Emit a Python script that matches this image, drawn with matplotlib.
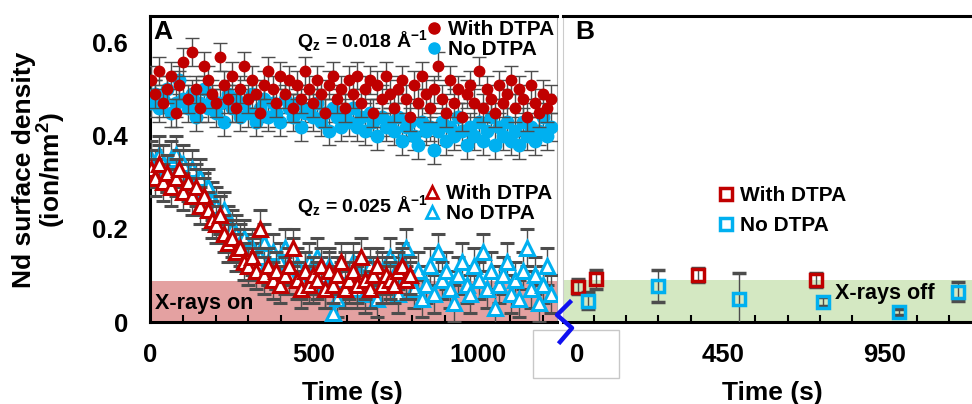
import numpy as np
import matplotlib
matplotlib.use("Agg")
import matplotlib.pyplot as plt
from matplotlib.lines import Line2D
from matplotlib.patches import Rectangle

plt.rcParams['font.family'] = ['Liberation Sans', 'DejaVu Sans']
plt.rcParams['font.weight'] = 'bold'
plt.rcParams['mathtext.fontset'] = 'custom'
plt.rcParams['mathtext.rm'] = 'Liberation Sans:bold'
plt.rcParams['mathtext.bf'] = 'Liberation Sans:bold'
plt.rcParams['mathtext.it'] = 'Liberation Sans:bold'

# ---------------- data: panel A (X-rays on) ----------------
time_a = [4, 16, 28, 41, 53, 65, 78, 90, 102, 115,
          127, 139, 152, 164, 176, 189, 201, 213, 226, 238,
          250, 263, 275, 287, 300, 312, 324, 337, 349, 361,
          374, 386, 398, 411, 423, 435, 448, 460, 472, 485,
          497, 509, 522, 534, 546, 559, 571, 583, 596, 608,
          620, 633, 645, 657, 670, 682, 694, 707, 719, 731,
          744, 756, 768, 781, 793, 805, 818, 830, 842, 855,
          867, 879, 892, 904, 916, 929, 941, 953, 966, 978,
          990, 1003, 1015, 1027, 1040, 1052, 1064, 1077, 1089, 1101,
          1114, 1126, 1138, 1151, 1163, 1175, 1188, 1200, 1212, 1225]

q018_with = [0.52, 0.49, 0.54, 0.47, 0.50, 0.53, 0.45, 0.51, 0.56, 0.48,
             0.58, 0.50, 0.46, 0.55, 0.52, 0.49, 0.47, 0.57, 0.51, 0.48,
             0.53, 0.46, 0.50, 0.55, 0.48, 0.52, 0.49, 0.45, 0.51, 0.54,
             0.50, 0.47, 0.53, 0.49, 0.52, 0.46, 0.51, 0.48, 0.54, 0.50,
             0.47, 0.52, 0.49, 0.45, 0.51, 0.53, 0.48, 0.50, 0.46, 0.52,
             0.49, 0.53, 0.47, 0.50, 0.52, 0.45, 0.51, 0.48, 0.53, 0.49,
             0.46, 0.50, 0.52, 0.48, 0.44, 0.51, 0.47, 0.53, 0.49, 0.46,
             0.50, 0.55, 0.48, 0.45, 0.52, 0.47, 0.50, 0.44, 0.49, 0.51,
             0.47, 0.54, 0.46, 0.50, 0.48, 0.45, 0.51, 0.47, 0.49, 0.52,
             0.46, 0.50, 0.48, 0.44, 0.51, 0.47, 0.45, 0.49, 0.46, 0.48]

q018_none = [0.47, 0.49, 0.46, 0.48, 0.50, 0.45, 0.47, 0.52, 0.48, 0.46,
             0.49, 0.44, 0.47, 0.50, 0.46, 0.48, 0.45, 0.47, 0.43, 0.49,
             0.46, 0.48, 0.44, 0.47, 0.45, 0.49, 0.43, 0.46, 0.48, 0.44,
             0.47, 0.45, 0.43, 0.48, 0.46, 0.44, 0.47, 0.42, 0.45, 0.46,
             0.44, 0.47, 0.43, 0.45, 0.41, 0.46, 0.44, 0.42, 0.45, 0.43,
             0.46, 0.42, 0.44, 0.41, 0.45, 0.43, 0.40, 0.44, 0.42, 0.43,
             0.41, 0.44, 0.39, 0.42, 0.43, 0.40, 0.38, 0.43, 0.41, 0.42,
             0.37, 0.41, 0.43, 0.39, 0.42, 0.40, 0.44, 0.41, 0.38, 0.42,
             0.40, 0.43, 0.39, 0.41, 0.44, 0.38, 0.42, 0.40, 0.43, 0.39,
             0.41, 0.38, 0.43, 0.40, 0.42, 0.39, 0.41, 0.44, 0.40, 0.42]

q025_with = [0.33, 0.31, 0.34, 0.30, 0.32, 0.29, 0.31, 0.33, 0.28, 0.30,
             0.27, 0.29, 0.25, 0.27, 0.24, 0.22, 0.21, 0.23, 0.19, 0.17,
             0.18, 0.15, 0.16, 0.13, 0.12, 0.14, 0.11, 0.20, 0.10, 0.12,
             0.09, 0.11, 0.08, 0.10, 0.12, 0.16, 0.09, 0.07, 0.11, 0.08,
             0.10, 0.09, 0.12, 0.07, 0.11, 0.08, 0.10, 0.13, 0.07, 0.09,
             0.11, 0.08, 0.14, 0.09, 0.07, 0.10, 0.12, 0.08, 0.10, 0.09,
             0.08, 0.11, 0.12, 0.09, 0.10]

q025_none = [0.35, 0.33, 0.36, 0.34, 0.32, 0.35, 0.36, 0.33, 0.34, 0.31,
             0.33, 0.30, 0.31, 0.28, 0.29, 0.26, 0.25, 0.23, 0.24, 0.21,
             0.20, 0.19, 0.17, 0.18, 0.15, 0.16, 0.13, 0.14, 0.17, 0.12,
             0.15, 0.11, 0.13, 0.16, 0.10, 0.14, 0.12, 0.09, 0.11, 0.13,
             0.08, 0.14, 0.10, 0.07, 0.12, 0.02, 0.05, 0.09, 0.11, 0.08,
             0.13, 0.07, 0.10, 0.06, 0.12, 0.09, 0.05, 0.11, 0.08, 0.14,
             0.10, 0.06, 0.13, 0.16, 0.09, 0.07, 0.11, 0.05, 0.08, 0.12,
             0.06, 0.15, 0.09, 0.11, 0.07, 0.04, 0.10, 0.13, 0.08, 0.06,
             0.12, 0.09, 0.15, 0.07, 0.11, 0.03, 0.08, 0.10, 0.13, 0.06,
             0.09, 0.05, 0.11, 0.16, 0.07, 0.10, 0.04, 0.08, 0.12, 0.06]

err_q018 = 0.03
err_q025 = 0.04

# ---------------- data: panel B (X-rays off) ----------------
time_b_with = [0, 57, 374, 736]
val_b_with = [0.076, 0.092, 0.101, 0.090]
err_b_with = [0.016, 0.020, 0.015, 0.015]

time_b_none = [31, 250, 498, 758, 995, 1177]
val_b_none = [0.046, 0.077, 0.049, 0.044, 0.022, 0.065]
err_b_none = [0.018, 0.035, 0.056, 0.010, 0.006, 0.020]

RED = '#C00000'
BLUE = '#00B0F0'
ERR = '#4D4D4D'
PINK = '#E4A1A1'
GREEN = '#D4E8C2'

W, H = 972, 404
fig = plt.figure(figsize=(W / 100, H / 100), dpi=100)

def fx(px):
    return px / W

def fy(py):
    return 1 - py / H

axA = fig.add_axes([fx(150), fy(322), (557 - 150) / W, (322 - 16) / H])
axB = fig.add_axes([fx(563), fy(322), (972 - 563) / W, (322 - 16) / H])

YMAX = 0.658
axA.set_xlim(0, 1242)
axA.set_ylim(0, YMAX)
axB.set_xlim(-45, 1220)
axB.set_ylim(0, YMAX)

axA.axhspan(0, 0.088, color=PINK, zorder=0, lw=0)
axB.axhspan(0, 0.090, color=GREEN, zorder=0, lw=0)

ekw = dict(ecolor=ERR, elinewidth=1.0, capsize=5, capthick=1.0)

n_w = len(q025_with)
axA.errorbar(time_a, q025_none, yerr=err_q025, fmt='^', ms=10, mfc='white',
             mec=BLUE, mew=2.2, zorder=3, **ekw)
axA.errorbar(time_a[:n_w], q025_with, yerr=err_q025, fmt='^', ms=10, mfc='white',
             mec=RED, mew=2.2, zorder=4, **ekw)
axA.errorbar(time_a, q018_none, yerr=err_q018, fmt='o', ms=9, mfc=BLUE,
             mec=BLUE, zorder=3, **ekw)
axA.errorbar(time_a, q018_with, yerr=err_q018, fmt='o', ms=7.5, mfc=RED,
             mec=RED, zorder=4, **ekw)

axB.errorbar(time_b_with, val_b_with, yerr=err_b_with, fmt='s', ms=8, mfc='none',
             mec=RED, mew=2.5, zorder=4, **ekw)
axB.errorbar(time_b_none, val_b_none, yerr=err_b_none, fmt='s', ms=8, mfc='none',
             mec=BLUE, mew=2.5, zorder=4, **ekw)

# spines
for ax in (axA, axB):
    for s in ('top', 'bottom'):
        ax.spines[s].set_linewidth(2.2)
        ax.spines[s].set_color('black')
axA.spines['left'].set_linewidth(2.2)
axA.spines['right'].set_color('#AAAAAA')
axA.spines['right'].set_linewidth(0.8)
axB.spines['left'].set_color('#CCCCCC')
axB.spines['left'].set_linewidth(0.8)
axB.spines['right'].set_visible(False)

# ticks
axA.set_yticks([0, 0.2, 0.4, 0.6])
axA.set_yticklabels(['0', '0.2', '0.4', '0.6'])
axA.tick_params(axis='y', length=0, pad=16, labelsize=18.5)
axA.set_xticks([0, 500, 1000])
axA.set_xticklabels(['0', '500', '1000'])
axA.set_xticks(np.arange(0, 1250, 100), minor=True)
axA.tick_params(axis='x', which='major', length=0, pad=15, labelsize=18.5)
axA.tick_params(axis='x', which='minor', direction='in', length=5, width=1.5)

axB.set_yticks([])
axB.set_xticks([0, 450, 950])
axB.set_xticklabels(['0', '450', '950'])
axB.set_xticks(np.arange(50, 1200, 100), minor=True)
axB.tick_params(axis='x', which='major', length=0, pad=15, labelsize=18.5)
axB.tick_params(axis='x', which='minor', direction='in', length=5, width=1.5)

# labels
fig.text(fx(352), fy(393), 'Time (s)', ha='center', va='center', fontsize=19, fontweight='bold')
fig.text(fx(772), fy(393), 'Time (s)', ha='center', va='center', fontsize=19, fontweight='bold')
fig.text(fx(40), fy(170), 'Nd surface density\n(ion/nm$^{2}$)', rotation=90, ha='center',
         va='center', fontsize=19, fontweight='bold', linespacing=1.0)

fig.text(fx(153), fy(32), 'A', ha='left', va='center', fontsize=19, fontweight='bold')
fig.text(fx(575), fy(32), 'B', ha='left', va='center', fontsize=19, fontweight='bold')
fig.text(fx(155), fy(303), 'X-rays on', ha='left', va='center', fontsize=15.5, fontweight='bold')
fig.text(fx(835), fy(293), 'X-rays off', ha='left', va='center', fontsize=15.5, fontweight='bold')

fig.text(fx(428), fy(41), 'Q$_{\\mathrm{z}}$ = 0.018 Å$^{\\mathrm{-1}}$', ha='right', va='center',
         fontsize=14, fontweight='bold')
fig.text(fx(428), fy(206), 'Q$_{\\mathrm{z}}$ = 0.025 Å$^{\\mathrm{-1}}$', ha='right', va='center',
         fontsize=14, fontweight='bold')

# legends
lkw = dict(frameon=False, handlelength=0.8, handletextpad=0.25, borderpad=0, borderaxespad=0,
           prop={'weight': 'bold', 'size': 15}, loc='upper left')
h1 = [Line2D([], [], ls='none', marker='o', ms=8, mfc=RED, mec=RED),
      Line2D([], [], ls='none', marker='o', ms=8, mfc=BLUE, mec=BLUE)]
fig.legend(h1, ['With DTPA', 'No DTPA'], bbox_to_anchor=(fx(426), fy(20)),
           labelspacing=0.05, **lkw)
h2 = [Line2D([], [], ls='none', marker='^', ms=8, mfc='white', mec=RED, mew=2),
      Line2D([], [], ls='none', marker='^', ms=8, mfc='white', mec=BLUE, mew=2)]
fig.legend(h2, ['With DTPA', 'No DTPA'], bbox_to_anchor=(fx(424), fy(184)),
           labelspacing=0.05, **lkw)
h3 = [Line2D([], [], ls='none', marker='s', ms=8, mfc='white', mec=RED, mew=2.5),
      Line2D([], [], ls='none', marker='s', ms=8, mfc='white', mec=BLUE, mew=2.5)]
fig.legend(h3, ['With DTPA', 'No DTPA'], bbox_to_anchor=(fx(718), fy(186)),
           labelspacing=0.55, **lkw)

# axis-break mark and gray box
xs = [fx(570), fx(557), fx(572), fx(560)]
ys = [fy(302), fy(315), fy(328), fy(342)]
fig.add_artist(Line2D(xs, ys, color='#1010F0', lw=3.2, transform=fig.transFigure))
fig.add_artist(Rectangle((fx(533), fy(378)), (619 - 533) / W, (378 - 330) / H,
                         transform=fig.transFigure, fill=False, ec='#C8C8C8', lw=1))

fig.savefig('out.png', dpi=100)
